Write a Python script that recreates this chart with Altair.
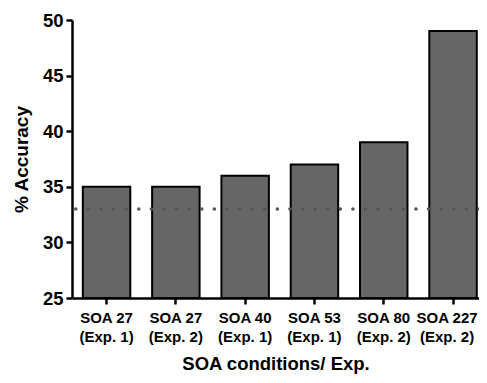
import altair as alt
import pandas as pd

conditions = ["SOA 27|(Exp. 1)", "SOA 27|(Exp. 2)", "SOA 40|(Exp. 1)",
              "SOA 53|(Exp. 1)", "SOA 80|(Exp. 2)", "SOA 227|(Exp. 2)"]
accuracy = [35, 35, 36, 37, 39, 49]
chance_level = [33]
y_ticks = [25, 30, 35, 40, 45, 50]

df = pd.DataFrame({"cond": conditions, "acc": accuracy, "base": [25] * len(accuracy)})
chance_df = pd.DataFrame({"chance": chance_level})

FONT = "Liberation Sans"

x_enc = alt.X(
    "cond:N", sort=conditions,
    scale=alt.Scale(paddingInner=0.315, paddingOuter=0.094, align=0.83),
    axis=alt.Axis(
        title="SOA conditions/ Exp.", labelExpr="split(datum.label, '|')",
        labelAngle=0, labelFont=FONT, labelFontWeight="bold", labelFontSize=15,
        labelColor="black", labelLineHeight=19.5, labelPadding=6,
        labelOffset={"condition": {"test": "datum.value === '" + conditions[-1] + "'",
                                   "value": -6}, "value": 0},
        tickSize=6, tickWidth=2.5, tickColor="black",
        domainColor="black", domainWidth=2.5,
        titleFont=FONT, titleFontWeight="bold", titleFontSize=18.5,
        titleColor="black", titlePadding=10,
    ),
)

y_enc = alt.Y(
    "acc:Q",
    scale=alt.Scale(domain=[25, 50], nice=False, zero=False),
    axis=alt.Axis(
        title="% Accuracy", values=y_ticks, grid=False,
        labelFont=FONT, labelFontWeight="bold", labelFontSize=18.5,
        labelColor="black", labelPadding=3,
        tickSize=6, tickWidth=2.5, tickColor="black",
        domainColor="black", domainWidth=2.5,
        titleFont=FONT, titleFontWeight="bold", titleFontSize=19,
        titleColor="black", titlePadding=11,
    ),
)

bars = alt.Chart(df).mark_bar(
    color="#666666", stroke="black", strokeWidth=2
).encode(x=x_enc, y=y_enc, y2="base:Q")

chance = alt.Chart(chance_df).mark_rule(
    color="#555555", strokeWidth=3.5, strokeDash=[0.1, 12.5], strokeCap="round"
).encode(y=alt.Y("chance:Q"))

chart = alt.layer(bars, chance).properties(
    width=407, height=278,
    autosize=alt.AutoSizeParams(type="none"),
    padding={"left": 64, "top": 12, "right": 0, "bottom": 77},
).configure_view(stroke=None)

chart.save("out.html", embed_options={"renderer": "svg", "actions": False})
